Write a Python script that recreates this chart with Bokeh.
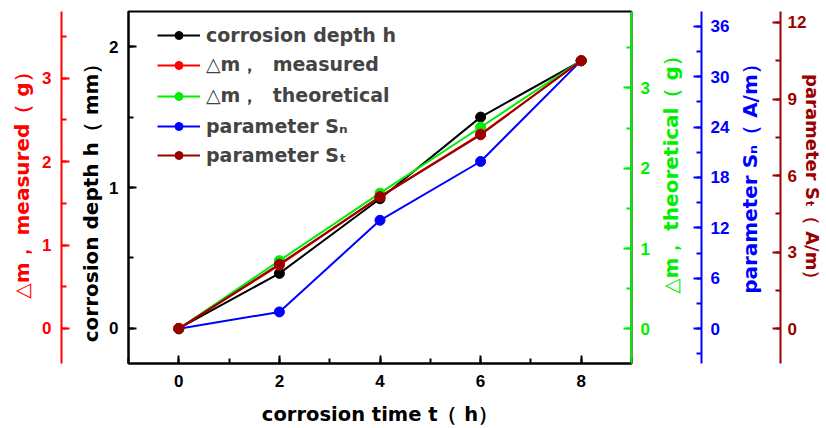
import math
from bokeh.plotting import figure
from bokeh.models import LinearAxis, Range1d, SingleIntervalTicker, Legend, LegendItem
from bokeh.embed import file_html
from bokeh.resources import INLINE

# ---- data ----
time_h = [0, 2, 4, 6, 8]
depth_h = [0, 0.39, 0.92, 1.50, 1.90]
dm_measured = [0, 0.76, 1.58, 2.33, 3.21]
dm_theoretical = [0, 0.85, 1.69, 2.51, 3.34]
param_sn = [0, 2.0, 12.9, 19.9, 31.9]
param_st = [0, 2.53, 5.17, 7.6, 10.5]

legend_labels = ["corrosion depth h", "△m，  measured", "△m，  theoretical",
                 "parameter Sₙ", "parameter Sₜ"]
x_title = "corrosion time t（ h）"
h_title = "corrosion depth h（ mm）"
m1_title = "△m，  measured（ g）"
m2_title = "△m，  theoretical（ g）"
sn_title = "parameter Sₙ（ A/m）"
st_title = "parameter Sₜ（ A/m）"

BLACK = "#000000"
RED = "#FF0000"
GREEN = "#00EE00"
BLUE = "#0000FF"
DRED = "#990000"
TICK_FONT = "Liberation Sans"
TITLE_FONT = "DejaVu Sans"
NB = "\u00a0"

p = figure(width=826, height=428, x_range=Range1d(-1, 9), y_range=Range1d(-0.25, 2.25),
           output_backend="svg", toolbar_location=None,
           min_border_left=128, min_border_right=195, min_border_top=11, min_border_bottom=63)
p.grid.visible = False
p.outline_line_color = "black"
p.outline_line_width = 2
p.background_fill_color = "white"
p.border_fill_color = "white"

p.extra_y_ranges = {
    "m1": Range1d(-0.42, 3.8),
    "m2": Range1d(-0.43, 3.95),
    "sn": Range1d(-4.14, 37.75),
    "st": Range1d(-1.36, 12.43),
}


def style(ax, color, title, label_standoff, title_standoff, orient=None, line_height=None,
          align=None, size="20px"):
    ax.axis_line_color = color
    ax.axis_line_width = 2
    ax.major_tick_line_color = color
    ax.minor_tick_line_color = color
    ax.major_tick_line_width = 2
    ax.minor_tick_line_width = 2
    ax.major_tick_in = 8
    ax.major_tick_out = 0
    ax.minor_tick_in = 5
    ax.minor_tick_out = 0
    ax.major_label_text_color = color
    ax.major_label_text_font = TICK_FONT
    ax.major_label_text_font_style = "bold"
    ax.major_label_text_font_size = "17px"
    ax.major_label_standoff = label_standoff
    ax.axis_label = title
    ax.axis_label_text_color = color
    ax.axis_label_text_font = TITLE_FONT
    ax.axis_label_text_font_style = "bold"
    ax.axis_label_text_font_size = size
    ax.axis_label_standoff = title_standoff
    if orient is not None:
        ax.axis_label_orientation = orient
    if line_height is not None:
        ax.axis_label_text_line_height = line_height
    if align is not None:
        ax.axis_label_align = align


# x axis
xa = p.xaxis[0]
xa.ticker = SingleIntervalTicker(interval=2, num_minor_ticks=2)
style(xa, BLACK, x_title, 11, 13, size="19.5px")

# main left axis (depth); leading blank line leaves room outside the title
ya = p.yaxis[0]
ya.ticker = SingleIntervalTicker(interval=1, num_minor_ticks=2)
style(ya, BLACK, "\n" + h_title + NB * 3, 10, 3, line_height=0.6)

# red measured axis (far left)
ax_m1 = LinearAxis(y_range_name="m1", ticker=SingleIntervalTicker(interval=1, num_minor_ticks=2))
style(ax_m1, RED, NB * 3 + m1_title, 10, 5)
p.add_layout(ax_m1, "left")

# right axes (titles read upwards)
ax_m2 = LinearAxis(y_range_name="m2", ticker=SingleIntervalTicker(interval=1, num_minor_ticks=2))
style(ax_m2, GREEN, "\n" + NB * 10 + m2_title, 9, 14, orient=math.pi / 2, line_height=0.3,
      align="start")
p.add_layout(ax_m2, "right")

ax_sn = LinearAxis(y_range_name="sn", ticker=SingleIntervalTicker(interval=6, num_minor_ticks=2))
style(ax_sn, BLUE, "\n" + NB * 10 + sn_title, 9, 14, orient=math.pi / 2, line_height=0.3,
      align="start")
p.add_layout(ax_sn, "right")

ax_st = LinearAxis(y_range_name="st", ticker=SingleIntervalTicker(interval=3, num_minor_ticks=2))
style(ax_st, DRED, st_title + NB * 2, 8, -7, size="18px")
ax_st.major_label_standoff = 7
p.add_layout(ax_st, "right")

# series
series = [
    (depth_h, BLACK, "default"),
    (dm_measured, RED, "m1"),
    (dm_theoretical, GREEN, "m2"),
    (param_sn, BLUE, "sn"),
    (param_st, DRED, "st"),
]
draw_order = [3, 0, 2, 1, 4]
rend = {}
for i in draw_order:
    ys, col, rn = series[i]
    kw = {} if rn == "default" else {"y_range_name": rn}
    ln = p.line(time_h, ys, line_color=col, line_width=2, **kw)
    sc = p.scatter(time_h, ys, size=10, fill_color=col, line_color=col, **kw)
    rend[i] = (ln, sc)

items = [LegendItem(label=legend_labels[i], renderers=list(rend[i])) for i in range(5)]
legend = Legend(items=items, location=(29, 196))
legend.border_line_alpha = 0
legend.background_fill_alpha = 0
legend.padding = 0
legend.margin = 0
legend.glyph_width = 43
legend.glyph_height = 20
legend.label_height = 24
legend.spacing = 5
legend.label_standoff = 6
legend.label_text_font = TITLE_FONT
legend.label_text_font_style = "bold"
legend.label_text_font_size = "19px"
p.add_layout(legend)

open("out.html", "w").write(file_html(p, INLINE))
